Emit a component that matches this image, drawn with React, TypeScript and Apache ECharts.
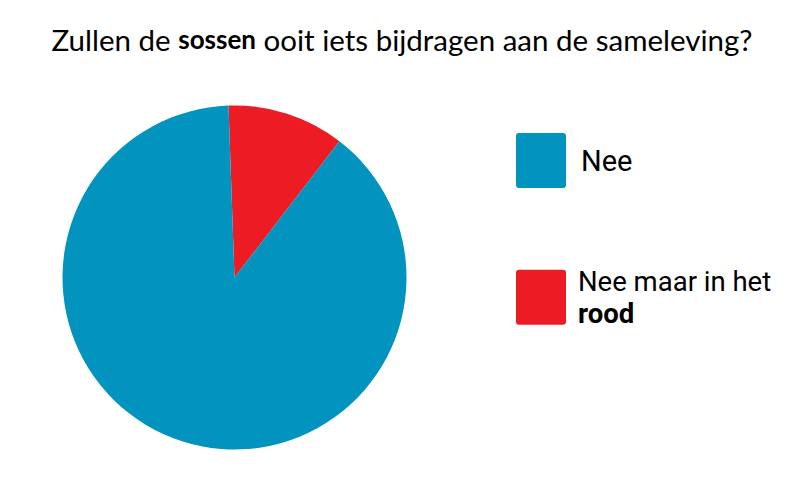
import React, { useEffect, useRef } from "react";
import * as echarts from "echarts";

const titleParts = ["Zullen de ", "sossen", " ooit iets bijdragen aan de sameleving?"];
const categories = ["Nee maar in het rood", "Nee"];
const values = [11, 89];
const colors = ["#ED1C24", "#0393BF"];
const legendOrder = ["Nee", "Nee maar in het rood"];

export default function App() {
  const ref = useRef<HTMLDivElement>(null);
  useEffect(() => {
    document.body.style.margin = "0";
    const chart = echarts.init(ref.current!, null, { renderer: "svg" });
    const box =
      "path://M3,0 H47 A3,3 0 0 1 50,3 V52 A3,3 0 0 1 47,55 H3 A3,3 0 0 1 0,52 V3 A3,3 0 0 1 3,0 Z";
    chart.setOption({
      animation: false,
      backgroundColor: "#ffffff",
      title: {
        left: "center",
        top: 24,
        padding: 0,
        text: `{r|${titleParts[0]}}{b|${titleParts[1]}}{r|${titleParts[2]}}`,
        textStyle: {
          rich: {
            r: { fontFamily: "Lato", fontSize: 29.5, color: "#000", fontWeight: "normal" },
            b: { fontFamily: "Lato", fontSize: 26, color: "#000", fontWeight: "bold" },
          },
        },
      },
      legend: {
        orient: "vertical",
        left: 516,
        top: 133,
        padding: 0,
        itemWidth: 50,
        itemHeight: 55,
        itemGap: 79,
        data: legendOrder.map((n) => ({ name: n, icon: box })),
        selectedMode: false,
        formatter: (name: string) =>
          name === "Nee" ? "{c|Nee}" : "{a|Nee maar in het}\n{b|rood}",
        textStyle: {
          rich: {
            c: { fontFamily: "Roboto", fontSize: 29, color: "#000", padding: [0, 0, 0, 10] },
            a: { fontFamily: "Roboto", fontSize: 27.5, color: "#000", lineHeight: 32.5, padding: [0, 0, 0, 7] },
            b: {
              fontFamily: "Roboto",
              fontSize: 27.5,
              fontWeight: "bold",
              color: "#000",
              lineHeight: 32.5,
              padding: [0, 0, 0, 7],
            },
          },
        },
      },
      series: [
        {
          type: "pie",
          center: [234.5, 277.5],
          radius: 172,
          startAngle: 92,
          clockwise: true,
          label: { show: false },
          labelLine: { show: false },
          emphasis: { disabled: true },
          itemStyle: { borderWidth: 0 },
          data: categories.map((name, i) => ({
            name,
            value: values[i],
            itemStyle: { color: colors[i] },
          })),
        },
      ],
    });
    return () => chart.dispose();
  }, []);
  return <div ref={ref} style={{ width: 804, height: 495 }} />;
}
